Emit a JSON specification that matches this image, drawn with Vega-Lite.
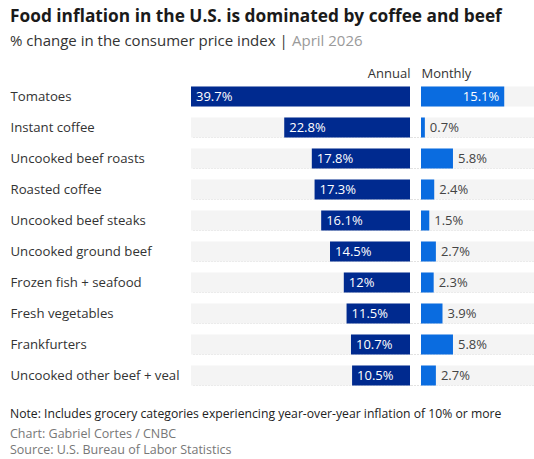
{
  "$schema": "https://vega.github.io/schema/vega-lite/v6.json",
  "autosize": {"type": "pad"},
  "padding": {"left": 10, "top": 8, "right": 0, "bottom": 2},
  "background": "white",
  "title": {
    "text": "Food inflation in the U.S. is dominated by coffee and beef",
    "anchor": "start",
    "fontSize": 17.3,
    "fontWeight": 700,
    "color": "#1a1a1a",
    "offset": 8
  },
  "config": {
    "view": {"stroke": null},
    "font": "Open Sans",
    "title": {"font": "Open Sans"},
    "axis": {"labelFont": "Open Sans", "titleFont": "Open Sans"}
  },
  "data": {
    "values": [
      {"category": "Tomatoes", "annual": 39.7, "monthly": 15.1},
      {"category": "Instant coffee", "annual": 22.8, "monthly": 0.7},
      {"category": "Uncooked beef roasts", "annual": 17.8, "monthly": 5.8},
      {"category": "Roasted coffee", "annual": 17.3, "monthly": 2.4},
      {"category": "Uncooked beef steaks", "annual": 16.1, "monthly": 1.5},
      {"category": "Uncooked ground beef", "annual": 14.5, "monthly": 2.7},
      {"category": "Frozen fish + seafood", "annual": 12, "monthly": 2.3},
      {"category": "Fresh vegetables", "annual": 11.5, "monthly": 3.9},
      {"category": "Frankfurters", "annual": 10.7, "monthly": 5.8},
      {"category": "Uncooked other beef + veal", "annual": 10.5, "monthly": 2.7}
    ]
  },
  "transform": [
    {"calculate": "datum.annual + '%'", "as": "annual_label"},
    {"calculate": "datum.monthly + '%'", "as": "monthly_label"}
  ],
  "spacing": 16,
  "vconcat": [
    {
      "spacing": 7,
      "vconcat": [
        {
          "spacing": 4,
          "hconcat": [
            {
              "width": 1,
              "height": 1,
              "mark": {"type": "text", "text": ""},
              "title": {"text": "% change in the consumer price index |", "anchor": "start", "fontSize": 15, "fontWeight": 400, "color": "#333333", "offset": 0}
            },
            {
              "width": 1,
              "height": 1,
              "mark": {"type": "text", "text": ""},
              "title": {"text": "April 2026", "anchor": "start", "fontSize": 15, "fontWeight": 400, "color": "#9a9a9a", "offset": 0}
            }
          ]
        },
        {
          "spacing": 0,
          "hconcat": [
            {
              "width": 400,
              "height": 310,
              "encoding": {
                "y": {
                  "field": "category",
                  "type": "nominal",
                  "sort": null,
                  "scale": {"paddingInner": 0.355, "paddingOuter": 0.1775},
                  "axis": {
                    "title": null,
                    "domain": false,
                    "ticks": false,
                    "tickBand": "extent",
                    "grid": true,
                    "gridColor": "#c4c4c4",
                    "gridDash": [1, 2],
                    "gridWidth": 1,
                    "gridOpacity": {"condition": {"test": "datum.index <= 0", "value": 0}, "value": 1},
                    "labelAlign": "left",
                    "labelPadding": 0,
                    "labelFontSize": 13.2,
                    "labelColor": "#333333",
                    "labelLimit": 200
                  }
                }
              },
              "layer": [
                {
                  "mark": {"type": "bar", "color": "#f4f4f4"},
                  "encoding": {
                    "x": {
                      "datum": 39.7,
                      "type": "quantitative",
                      "scale": {"domain": [0, 39.7], "range": [400, 181], "nice": false, "zero": true},
                      "axis": {"orient": "top", "title": "Annual", "labels": false, "ticks": false, "domain": false, "grid": false, "titleAnchor": "start", "titleAlign": "right", "titleFontSize": 13, "titleFontWeight": 400, "titleColor": "#333333", "titlePadding": 1}
                    },
                    "x2": {"datum": 0}
                  }
                },
                {
                  "mark": {"type": "bar", "color": "#002a8f"},
                  "encoding": {
                    "x": {"field": "annual", "type": "quantitative", "axis": {"orient": "top", "title": "Annual", "labels": false, "ticks": false, "domain": false, "grid": false, "titleAnchor": "start", "titleAlign": "right", "titleFontSize": 13, "titleFontWeight": 400, "titleColor": "#333333", "titlePadding": 1}}
                  }
                },
                {
                  "mark": {"type": "text", "align": "left", "baseline": "middle", "dx": 5, "color": "white", "fontSize": 13},
                  "encoding": {
                    "x": {"field": "annual", "type": "quantitative", "axis": {"orient": "top", "title": "Annual", "labels": false, "ticks": false, "domain": false, "grid": false, "titleAnchor": "start", "titleAlign": "right", "titleFontSize": 13, "titleFontWeight": 400, "titleColor": "#333333", "titlePadding": 1}},
                    "text": {"field": "annual_label"}
                  }
                }
              ]
            },
            {
              "width": 113,
              "height": 310,
              "encoding": {
                "y": {
                  "field": "category",
                  "type": "nominal",
                  "sort": null,
                  "scale": {"paddingInner": 0.355, "paddingOuter": 0.1775},
                  "axis": {
                    "title": null,
                    "domain": false,
                    "labels": false,
                    "ticks": true,
                    "tickSize": 10,
                    "tickBand": "extent",
                    "tickColor": "#c4c4c4",
                    "tickDash": [1, 2],
                    "tickWidth": 1,
                    "tickOpacity": {"condition": {"test": "datum.index <= 0", "value": 0}, "value": 1},
                    "grid": true,
                    "gridColor": "#c4c4c4",
                    "gridDash": [1, 2],
                    "gridWidth": 1,
                    "gridOpacity": {"condition": {"test": "datum.index <= 0", "value": 0}, "value": 1}
                  }
                }
              },
              "layer": [
                {
                  "mark": {"type": "bar", "color": "#f4f4f4"},
                  "encoding": {
                    "x": {
                      "datum": 20.5,
                      "type": "quantitative",
                      "scale": {"domain": [0, 20.5], "nice": false, "zero": true},
                      "axis": {"orient": "top", "title": "Monthly", "labels": false, "ticks": false, "domain": false, "grid": false, "titleAnchor": "start", "titleFontSize": 13, "titleFontWeight": 400, "titleColor": "#333333", "titlePadding": 1}
                    },
                    "x2": {"datum": 0}
                  }
                },
                {
                  "mark": {"type": "bar", "color": "#0a6ce0"},
                  "encoding": {
                    "x": {"field": "monthly", "type": "quantitative", "axis": {"orient": "top", "title": "Monthly", "labels": false, "ticks": false, "domain": false, "grid": false, "titleAnchor": "start", "titleFontSize": 13, "titleFontWeight": 400, "titleColor": "#333333", "titlePadding": 1}}
                  }
                },
                {
                  "transform": [{"filter": "datum.monthly >= 10"}],
                  "mark": {"type": "text", "align": "right", "baseline": "middle", "dx": -5, "color": "white", "fontSize": 13},
                  "encoding": {
                    "x": {"field": "monthly", "type": "quantitative", "axis": {"orient": "top", "title": "Monthly", "labels": false, "ticks": false, "domain": false, "grid": false, "titleAnchor": "start", "titleFontSize": 13, "titleFontWeight": 400, "titleColor": "#333333", "titlePadding": 1}},
                    "text": {"field": "monthly_label"}
                  }
                },
                {
                  "transform": [{"filter": "datum.monthly < 10"}],
                  "mark": {"type": "text", "align": "left", "baseline": "middle", "dx": 5, "color": "#444444", "fontSize": 13},
                  "encoding": {
                    "x": {"field": "monthly", "type": "quantitative", "axis": {"orient": "top", "title": "Monthly", "labels": false, "ticks": false, "domain": false, "grid": false, "titleAnchor": "start", "titleFontSize": 13, "titleFontWeight": 400, "titleColor": "#333333", "titlePadding": 1}},
                    "text": {"field": "monthly_label"}
                  }
                }
              ]
            }
          ]
        }
      ]
    },
    {
      "width": 1,
      "height": 1,
      "mark": {"type": "text", "text": ""},
      "title": {
        "text": "Note: Includes grocery categories experiencing year-over-year inflation of 10% or more",
        "subtitle": ["Chart: Gabriel Cortes / CNBC", "Source: U.S. Bureau of Labor Statistics"],
        "anchor": "start",
        "fontSize": 12.2,
        "fontWeight": 400,
        "color": "#222222",
        "subtitleFontSize": 12.5,
        "subtitleColor": "#777777",
        "subtitlePadding": 8,
        "subtitleLineHeight": 16,
        "offset": 0
      }
    }
  ]
}
